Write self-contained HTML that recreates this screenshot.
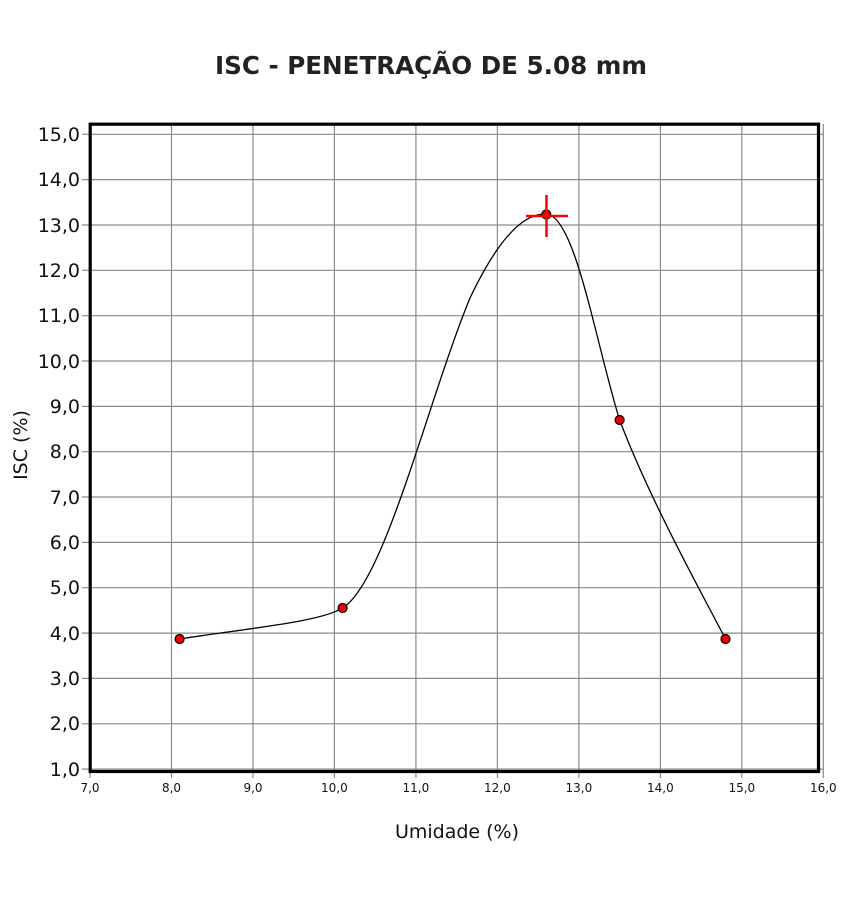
<!DOCTYPE html>
<html><head><meta charset="utf-8"><style>body{margin:0;background:#fff}</style></head><body>
<svg width="862" height="900" xmlns="http://www.w3.org/2000/svg" font-family="'DejaVu Sans','Liberation Sans',sans-serif">
<rect width="862" height="900" fill="#fff"/>
<text x="431" y="74" text-anchor="middle" font-size="25" font-weight="bold" fill="#222" textLength="432" lengthAdjust="spacingAndGlyphs">ISC - PENETRAÇÃO DE 5.08 mm</text>
<g stroke="#8a8a8a" stroke-width="1.2">
<line x1="90" x2="90" y1="124" y2="778"/><line x1="171.5" x2="171.5" y1="124" y2="778"/><line x1="253" x2="253" y1="124" y2="778"/><line x1="334.4" x2="334.4" y1="124" y2="778"/><line x1="415.9" x2="415.9" y1="124" y2="778"/><line x1="497.4" x2="497.4" y1="124" y2="778"/><line x1="578.9" x2="578.9" y1="124" y2="778"/><line x1="660.4" x2="660.4" y1="124" y2="778"/><line x1="741.8" x2="741.8" y1="124" y2="778"/><line x1="823.3" x2="823.3" y1="124" y2="778"/>
<line x1="82" x2="823" y1="134.3" y2="134.3"/><line x1="82" x2="823" y1="179.6" y2="179.6"/><line x1="82" x2="823" y1="225" y2="225"/><line x1="82" x2="823" y1="270.3" y2="270.3"/><line x1="82" x2="823" y1="315.7" y2="315.7"/><line x1="82" x2="823" y1="361" y2="361"/><line x1="82" x2="823" y1="406.4" y2="406.4"/><line x1="82" x2="823" y1="451.7" y2="451.7"/><line x1="82" x2="823" y1="497" y2="497"/><line x1="82" x2="823" y1="542.4" y2="542.4"/><line x1="82" x2="823" y1="587.7" y2="587.7"/><line x1="82" x2="823" y1="633.1" y2="633.1"/><line x1="82" x2="823" y1="678.4" y2="678.4"/><line x1="82" x2="823" y1="723.8" y2="723.8"/><line x1="82" x2="823" y1="769.1" y2="769.1"/>
</g>
<rect x="90.2" y="124.2" width="728.3" height="647.3" fill="none" stroke="#000" stroke-width="3.2"/>
<g font-size="19" text-anchor="end" fill="#111">
<text x="80" y="141">15,0</text><text x="80" y="186">14,0</text><text x="80" y="232">13,0</text><text x="80" y="277">12,0</text><text x="80" y="322">11,0</text><text x="80" y="368">10,0</text><text x="80" y="413">9,0</text><text x="80" y="458">8,0</text><text x="80" y="504">7,0</text><text x="80" y="549">6,0</text><text x="80" y="594">5,0</text><text x="80" y="640">4,0</text><text x="80" y="685">3,0</text><text x="80" y="730">2,0</text><text x="80" y="776">1,0</text>
</g>
<g font-size="12" text-anchor="middle" fill="#111">
<text x="90" y="792">7,0</text><text x="171.5" y="792">8,0</text><text x="253" y="792">9,0</text><text x="334.4" y="792">10,0</text><text x="415.9" y="792">11,0</text><text x="497.4" y="792">12,0</text><text x="578.9" y="792">13,0</text><text x="660.4" y="792">14,0</text><text x="741.8" y="792">15,0</text><text x="823.3" y="792">16,0</text>
</g>
<text x="457" y="838" text-anchor="middle" font-size="19" fill="#111">Umidade (%)</text>
<text transform="translate(27,445) rotate(-90)" text-anchor="middle" font-size="19" fill="#111">ISC (%)</text>
<path d="M179.6,639 C250,628 320,622 342.6,608 C385,582 428,400 470,298 C500,235 525,213 546,214 C575,215 595,340 619.6,420 C650,500 700,590 725.5,639" fill="none" stroke="#000" stroke-width="1.3"/>
<g fill="#e00" stroke="#000" stroke-width="1.2">
<circle cx="179.6" cy="639" r="4.5"/><circle cx="342.6" cy="608" r="4.5"/><circle cx="546.3" cy="214.5" r="4.5"/><circle cx="619.6" cy="420" r="4.5"/><circle cx="725.5" cy="639" r="4.5"/>
</g>
<g stroke="#f00" stroke-width="2.5"><line x1="526" x2="568" y1="216" y2="216"/><line x1="546.5" x2="546.5" y1="195" y2="237"/></g>
</svg>
</body></html>
